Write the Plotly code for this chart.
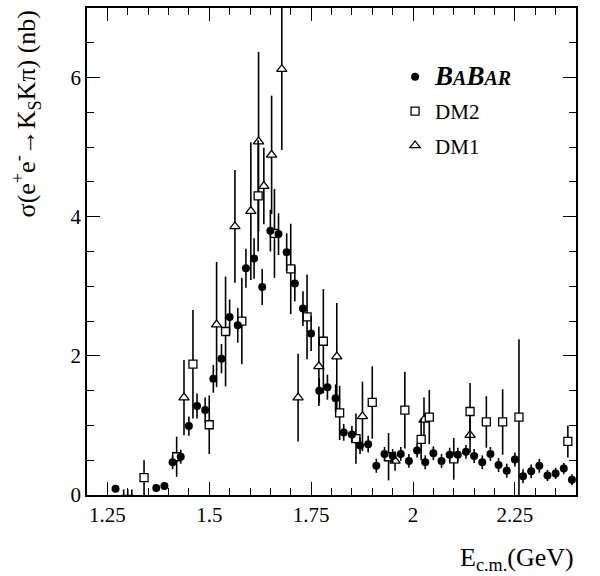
import plotly.graph_objects as go

# BaBar (filled circles)
babar_e = [1.27, 1.29, 1.30, 1.31, 1.37, 1.39, 1.41, 1.43, 1.45, 1.47, 1.49, 1.51, 1.53,
           1.55, 1.57, 1.59, 1.61, 1.63, 1.65, 1.67, 1.69, 1.71, 1.73, 1.75, 1.77, 1.79,
           1.81, 1.83, 1.85, 1.87, 1.89, 1.91, 1.93, 1.95, 1.97, 1.99, 2.01, 2.03, 2.05,
           2.07, 2.09, 2.11, 2.13, 2.15, 2.17, 2.19, 2.21, 2.23, 2.25, 2.27, 2.29, 2.31,
           2.33, 2.35, 2.37, 2.39]
babar_sig = [0.09, -0.05, -0.05, -0.05, 0.10, 0.13, 0.47, 0.55, 0.99, 1.28, 1.22, 1.67, 1.96,
             2.56, 2.44, 3.26, 3.40, 2.99, 3.80, 3.75, 3.49, 3.04, 2.68, 2.32, 1.50, 1.55,
             1.39, 0.90, 0.87, 0.71, 0.73, 0.42, 0.59, 0.56, 0.59, 0.49, 0.64, 0.47, 0.60,
             0.49, 0.58, 0.58, 0.62, 0.56, 0.47, 0.59, 0.43, 0.35, 0.51, 0.27, 0.34, 0.42,
             0.28, 0.31, 0.38, 0.22]
babar_err = [0.04, 0.13, 0.13, 0.13, 0.03, 0.03, 0.10, 0.10, 0.14, 0.18, 0.18, 0.20, 0.21,
             0.25, 0.25, 0.28, 0.29, 0.26, 0.30, 0.30, 0.27, 0.26, 0.25, 0.25, 0.18, 0.18,
             0.20, 0.12, 0.12, 0.12, 0.12, 0.10, 0.10, 0.10, 0.10, 0.10, 0.10, 0.10, 0.10,
             0.10, 0.10, 0.10, 0.10, 0.10, 0.10, 0.10, 0.10, 0.10, 0.10, 0.10, 0.10, 0.10,
             0.08, 0.08, 0.08, 0.08]

# DM2 (open squares)
dm2_e = [1.34, 1.42, 1.46, 1.50, 1.54, 1.58, 1.62, 1.66, 1.70, 1.74, 1.78, 1.82, 1.86,
         1.90, 1.94, 1.98, 2.02, 2.04, 2.10, 2.14, 2.18, 2.22, 2.26, 2.38]
dm2_sig = [0.25, 0.55, 1.88, 1.01, 2.35, 2.50, 4.30, 3.76, 3.25, 2.56, 2.21, 1.18, 0.81,
           1.33, 0.55, 1.22, 0.80, 1.12, 0.52, 1.20, 1.05, 1.05, 1.12, 0.77]
dm2_err = [0.25, 0.29, 0.78, 0.42, 0.79, 0.62, 0.80, 0.64, 0.65, 0.61, 0.75, 0.39, 0.36,
           0.52, 0.34, 0.55, 0.30, 0.39, 0.30, 0.41, 0.37, 0.47, 1.12, 0.23]

# DM1 (open triangles)
dm1_e = [1.438, 1.518, 1.563, 1.602, 1.621, 1.634, 1.653, 1.678, 1.718, 1.769, 1.813,
         1.876, 1.956, 2.027, 2.140]
dm1_sig = [1.40, 2.45, 3.86, 4.08, 5.08, 4.44, 4.89, 6.12, 1.40, 1.85, 1.99, 1.13, 0.49,
           1.08, 0.86]
dm1_err = [0.54, 0.90, 0.81, 0.99, 1.29, 0.55, 0.85, 1.16, 0.63, 0.57, 0.77, 0.50, 0.14,
           0.32, 0.25]

SERIF = "Liberation Serif"

fig = go.Figure()

fig.add_trace(go.Scatter(
    x=dm1_e, y=dm1_sig, mode="markers", name="DM1", legendrank=3,
    legendgroup="c",
    error_y=dict(type="data", array=dm1_err, width=0, thickness=1.6, color="black"),
    marker=dict(symbol="triangle-up", size=9, color="white",
                line=dict(color="black", width=1.3)),
))

fig.add_trace(go.Scatter(
    x=dm2_e, y=dm2_sig, mode="markers", name="DM2", legendrank=2,
    legendgroup="b",
    error_y=dict(type="data", array=dm2_err, width=0, thickness=1.6, color="black"),
    marker=dict(symbol="square", size=8, color="white",
                line=dict(color="black", width=1.3)),
))

babar_label = ("<b><i><span style='font-size:27px'>B</span>"
               "<span style='font-size:20px'>A</span>"
               "<span style='font-size:27px'>B</span>"
               "<span style='font-size:20px'>AR</span></i></b>")

fig.add_trace(go.Scatter(
    x=babar_e, y=babar_sig, mode="markers", legendrank=1, legendgroup="a",
    name=babar_label,
    error_y=dict(type="data", array=babar_err, width=0, thickness=1.6, color="black"),
    marker=dict(symbol="circle", size=8, color="black"),
))

axis_common = dict(
    showline=True, linecolor="black", linewidth=1.5, mirror="ticks",
    ticks="inside", ticklen=13, tickwidth=1.2, tickcolor="black",
    showgrid=False, zeroline=False,
    tickfont=dict(family=SERIF, size=21, color="black"),
)

fig.update_xaxes(
    range=[1.2, 2.4], tick0=1.25, dtick=0.25,
    minor=dict(ticks="inside", ticklen=7, tickwidth=1, tickcolor="black", dtick=0.05, tick0=1.25),
    **axis_common,
)
fig.update_yaxes(
    range=[0, 7], tick0=0, dtick=2,
    minor=dict(ticks="inside", ticklen=7, tickwidth=1, tickcolor="black", dtick=0.5, tick0=0),
    **axis_common,
)

fig.update_layout(
    width=600, height=576,
    margin=dict(l=87, r=24, t=6, b=81),
    paper_bgcolor="white", plot_bgcolor="white",
    font=dict(family=SERIF, size=20, color="black"),
    legend=dict(
        x=0.63, y=0.90, xanchor="left", yanchor="top",
        bgcolor="rgba(0,0,0,0)", traceorder="grouped", tracegroupgap=4,
        font=dict(family=SERIF, size=21, color="black"),
    ),
)

fig.add_annotation(
    text="E<sub>c.m.</sub>(GeV)", xref="paper", yref="paper",
    x=1.0, y=-0.095, xanchor="right", yanchor="top", showarrow=False,
    font=dict(family=SERIF, size=26, color="black"),
)
fig.add_annotation(
    text="σ(e<sup>+</sup>e<sup>-</sup>→K<sub>S</sub>Kπ) (nb)", xref="paper", yref="paper",
    x=-0.125, y=1.0, xanchor="center", yanchor="top", textangle=-90, showarrow=False,
    font=dict(family=SERIF, size=26, color="black"),
)

# drop the default page margin so the figure sits at the window's corner
fig.write_html("out.html", config={"displayModeBar": False},
               post_script="document.body.style.margin='0';")
